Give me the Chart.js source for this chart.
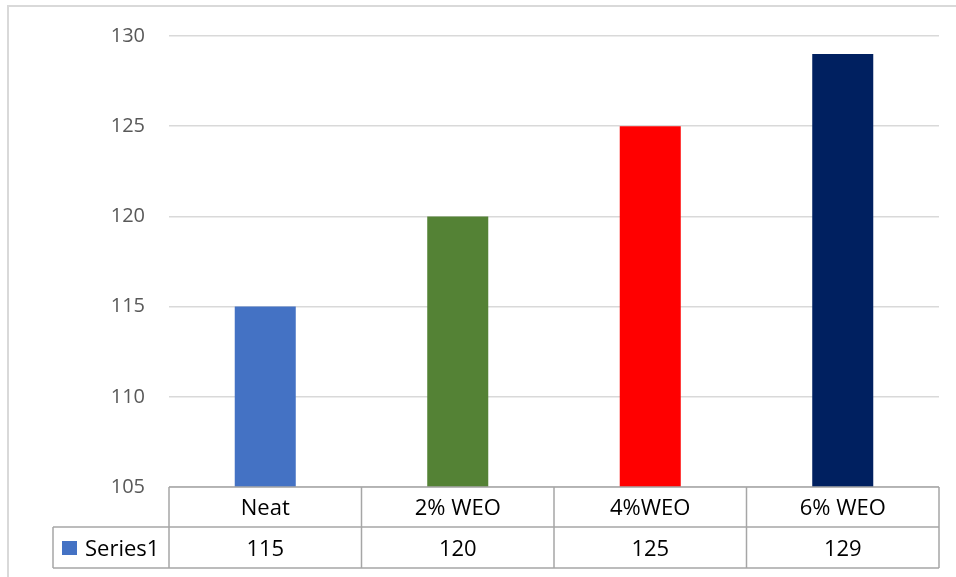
<!DOCTYPE html>
<html lang="en">
<head>
  <meta charset="UTF-8" />
  <title>WEO bar chart</title>
  <style>
    body { margin: 0; background: #fff; }
    .chart-box { position: relative; width: 956px; height: 577px; }
  </style>
</head>
<body>
  <div class="chart-box">
    <canvas id="chartWEO"></canvas>
  </div>

  <script src="https://cdn.jsdelivr.net/npm/chart.js@4/dist/chart.umd.min.js"></script>
  <script>
    // --------------------------
    // data
    // --------------------------
    const categories = ["Neat", "2% WEO", "4%WEO", "6% WEO"];
    const seriesName = "Series1";
    const seriesValues = [115, 120, 125, 129];
    const barColors = ["#4472c4", "#548235", "#ff0000", "#002060"];
    const yTicks = [105, 110, 115, 120, 125, 130];

    const FONT = "'Open Sans', sans-serif";

    // outer frame of the chart object
    const framePlugin = {
      id: 'frame',
      beforeDraw(chart) {
        const ctx = chart.ctx;
        ctx.save();
        ctx.strokeStyle = '#d9d9d9';
        ctx.lineWidth = 2;
        ctx.strokeRect(8, 6, 1000, 700);
        ctx.restore();
      }
    };

    // data table under the plot (category row + value row)
    const dataTablePlugin = {
      id: 'dataTable',
      afterDraw(chart) {
        const ctx = chart.ctx;
        const x = chart.scales.x;
        const area = chart.chartArea;
        const step = x.getPixelForValue(1) - x.getPixelForValue(0);
        const edges = [];
        for (let i = 0; i < categories.length; i++) {
          edges.push(x.getPixelForValue(i) - step / 2);
        }
        edges.push(x.getPixelForValue(categories.length - 1) + step / 2);

        const row1 = area.bottom;
        const row2 = row1 + 40;
        const row3 = row2 + 41;
        const legendLeft = 53;

        ctx.save();
        ctx.strokeStyle = '#a6a6a6';
        ctx.lineWidth = 1.5;
        ctx.beginPath();
        ctx.moveTo(edges[0], row1); ctx.lineTo(edges[edges.length - 1], row1);
        ctx.moveTo(legendLeft, row2); ctx.lineTo(edges[edges.length - 1], row2);
        ctx.moveTo(legendLeft, row3); ctx.lineTo(edges[edges.length - 1], row3);
        ctx.moveTo(legendLeft, row2); ctx.lineTo(legendLeft, row3);
        edges.forEach(e => { ctx.moveTo(e, row1); ctx.lineTo(e, row3); });
        ctx.stroke();

        ctx.fillStyle = '#000';
        ctx.font = '22px ' + FONT;
        ctx.textAlign = 'center';
        ctx.textBaseline = 'middle';
        categories.forEach((c, i) => {
          const cx = x.getPixelForValue(i);
          ctx.fillText(c, cx, (row1 + row2) / 2 + 2);
          ctx.fillText(String(seriesValues[i]), cx, (row2 + row3) / 2 + 2);
        });

        // legend key
        ctx.fillStyle = barColors[0];
        ctx.fillRect(62, 541, 15, 14);
        ctx.fillStyle = '#000';
        ctx.textAlign = 'left';
        ctx.fillText(seriesName, 85, (row2 + row3) / 2 + 2);
        ctx.restore();
      }
    };

    const ctx = document.getElementById('chartWEO').getContext('2d');
    new Chart(ctx, {
      type: 'bar',
      data: {
        labels: categories,
        datasets: [{
          label: seriesName,
          data: seriesValues,
          backgroundColor: barColors,
          categoryPercentage: 1,
          barPercentage: 0.317
        }]
      },
      options: {
        responsive: true,
        maintainAspectRatio: false,
        animation: false,
        layout: { padding: { top: 36, right: 17, bottom: 90, left: 0 } },
        scales: {
          x: { display: false },
          y: {
            min: 105,
            max: 130,
            afterFit(scale) { scale.width = 169; },
            afterBuildTicks(scale) { scale.ticks = yTicks.map(v => ({ value: v })); },
            border: { display: false },
            grid: { color: '#d9d9d9', lineWidth: 1.5, drawTicks: false },
            ticks: {
              padding: 24,
              color: '#595959',
              font: { family: FONT, size: 20 }
            }
          }
        },
        plugins: {
          legend: { display: false },
          tooltip: { enabled: false }
        }
      },
      plugins: [framePlugin, dataTablePlugin]
    });
  </script>
</body>
</html>
